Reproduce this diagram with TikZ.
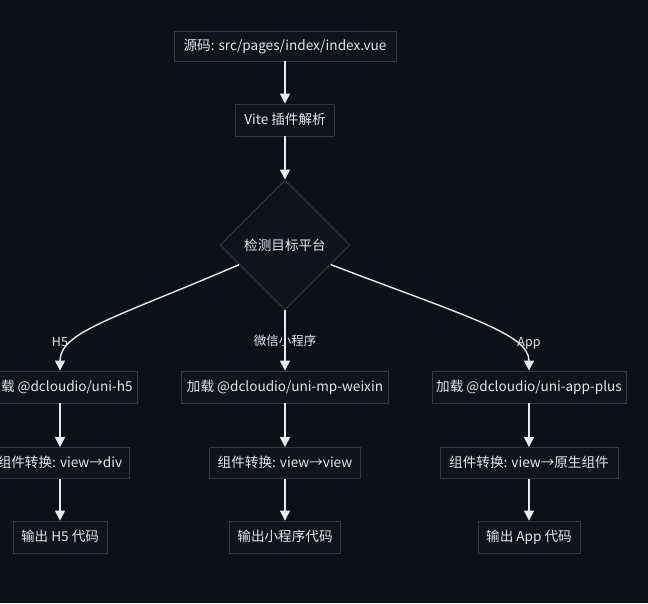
\documentclass[tikz,border=0pt]{standalone}
\usepackage{fontspec}
\setmainfont{Noto Sans CJK SC}
\usetikzlibrary{shapes.geometric,arrows.meta,calc}
\definecolor{bgc}{RGB}{13,16,23}
\definecolor{boxfill}{RGB}{16,19,26}
\definecolor{boxline}{RGB}{52,56,64}
\definecolor{txt}{RGB}{228,230,235}
\definecolor{edgec}{RGB}{232,236,242}
\tikzset{
  box/.style={draw=boxline, fill=boxfill, line width=0.9pt, text=txt, inner sep=0pt,
    minimum height=32pt, font=\fontsize{13.6}{15}\selectfont, text depth=0pt, text height=9pt},
  dia/.style={diamond, draw=boxline, fill=boxfill, line width=0.9pt, text=txt, inner sep=0pt,
    minimum width=130pt, minimum height=130pt, font=\fontsize{13.6}{15}\selectfont},
  conn/.style={draw=edgec, line width=1.4pt, -{Triangle[length=10pt,width=10pt]}},
  elabel/.style={text=txt, font=\fontsize{12.5}{14}\selectfont, inner sep=1pt}
}
\begin{document}
\begin{tikzpicture}[x=1pt,y=-1pt]
\fill[bgc] (0,0) rectangle (648,603);
\useasboundingbox (0,0) rectangle (648,603);

\node[box, minimum width=222pt, minimum height=30pt] (src) at (285,46) {源码: src/pages/index/index.vue};
\node[box, minimum width=99pt] (vite) at (285,120) {Vite 插件解析};
\node[dia] (detect) at (285,245) {检测目标平台};

\node[box, minimum width=154pt] (loadh5) at (60,387) {加载 @dcloudio/uni-h5};
\node[box, minimum width=207pt] (loadmp) at (285,387) {加载 @dcloudio/uni-mp-weixin};
\node[box, minimum width=194pt] (loadapp) at (529,387) {加载 @dcloudio/uni-app-plus};

\node[box, minimum width=138pt, minimum height=31pt] (convh5) at (60,463) {组件转换: view→div};
\node[box, minimum width=151pt, minimum height=31pt] (convmp) at (285,463) {组件转换: view→view};
\node[box, minimum width=178pt, minimum height=31pt] (convapp) at (529,463) {组件转换: view→原生组件};

\node[box, minimum width=94pt] (outh5) at (60,537) {输出 H5 代码};
\node[box, minimum width=111pt] (outmp) at (285,537) {输出小程序代码};
\node[box, minimum width=102pt] (outapp) at (529,537) {输出 App 代码};

\coordinate (dl) at ($(detect.west)!0.3!(detect.south)$);
\coordinate (dr) at ($(detect.east)!0.3!(detect.south)$);

\draw[conn] (src) -- (vite);
\draw[conn] (vite) -- (detect);
\draw[conn] (dl) .. controls (115,318) and (60,332) .. (loadh5.north);
\draw[conn] (detect.south) -- (loadmp.north);
\draw[conn] (dr) .. controls (468,317) and (529,334) .. (loadapp.north);

\node[elabel] (lh5) at (60,342) {H5};
\node[elabel] (lmp) at (285,341) {微信小程序};
\node[elabel] (lapp) at (529,343) {App};

\draw[conn] (loadh5) -- (convh5);
\draw[conn] (convh5) -- (outh5);
\draw[conn] (loadmp) -- (convmp);
\draw[conn] (convmp) -- (outmp);
\draw[conn] (loadapp) -- (convapp);
\draw[conn] (convapp) -- (outapp);
\end{tikzpicture}
\end{document}
